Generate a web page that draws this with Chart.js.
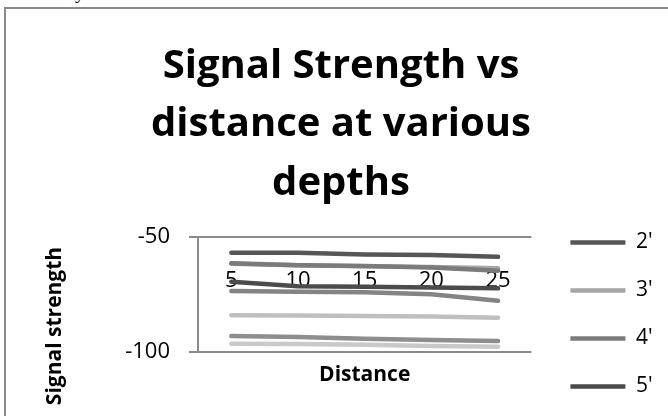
<!DOCTYPE html>
<html lang="en">
<head>
	<meta charset="UTF-8">
	<title>Signal Strength vs distance at various depths</title>
	<script src="https://cdn.jsdelivr.net/npm/chart.js"></script>
	<style>
		html, body { margin: 0; height: 416px; overflow: hidden; background: #fff; }
		.above { position: absolute; left: 14px; top: -19px; font: 20px/20px "Liberation Serif", serif; color: #000; }
		.frame { position: absolute; left: 4px; top: 7px; width: 900px; height: 900px; border-left: 2px solid #8a8a8a; border-top: 2px solid #8a8a8a; }
		.wrap { position: absolute; left: 0; top: 0; width: 668px; height: 616px; }
	</style>
</head>
<body>
	<div class="above">accuracy.</div>
	<div class="frame"></div>
	<div class="wrap"><canvas id="myChart"></canvas></div>

	<script>
		// categories (distance)
		const distances = ['5', '10', '15', '20', '25'];
		// series names (depths, in feet)
		const depths = ["2'", "3'", "4'", "5'", "6'", "7'", "8'", "9'"];
		// signal strength per depth
		const d2 = [-56.8, -56.8, -57.6, -57.8, -58.6];
		const d3 = [-61.6, -62.3, -62.7, -63.0, -63.6];
		const d4 = [-61.4, -62.2, -62.6, -63.2, -64.6];
		const d5 = [-69.4, -71.4, -71.6, -71.9, -72.3];
		const d6 = [-73.5, -73.8, -74.0, -74.9, -77.7];
		const d7 = [-84.0, -84.1, -84.3, -84.6, -85.1];
		const d8 = [-93.0, -93.5, -94.2, -94.8, -95.2];
		const d9 = [-96.4, -96.5, -96.8, -97.4, -97.7];
		const yTicks = [-100, -50];

		const values = [d2, d3, d4, d5, d6, d7, d8, d9];
		const colors = ['#565656', '#a6a6a6', '#7b7b7b', '#4b4b4b', '#848484', '#bfbfbf', '#8e8e8e', '#c9c9c9'];
		const axisGray = '#8a8a8a';

		Chart.defaults.font.family = '"Open Sans", sans-serif';
		Chart.defaults.color = '#000';

		// y axis title sits lower than the plot centre in the original, so draw it by hand
		const yTitle = {
			id: 'yTitle',
			afterDraw(chart) {
				const ctx = chart.ctx;
				ctx.save();
				ctx.translate(55, 326);
				ctx.rotate(-Math.PI / 2);
				ctx.font = 'bold 21px "Open Sans", sans-serif';
				ctx.fillStyle = '#000';
				ctx.textAlign = 'center';
				ctx.textBaseline = 'middle';
				ctx.fillText('Signal strength', 0, 0);
				ctx.restore();
			}
		};

		const datasets = depths.map((name, i) => ({
			label: name,
			data: values[i],
			borderColor: colors[i],
			backgroundColor: colors[i],
			borderWidth: 4.5,
			borderCapStyle: 'round',
			pointRadius: 0,
			tension: 0,
			order: i === 1 ? 1 : 0
		}));

		new Chart(document.getElementById('myChart'), {
			type: 'line',
			data: { labels: distances, datasets },
			plugins: [yTitle],
			options: {
				responsive: true,
				maintainAspectRatio: false,
				animation: false,
				layout: { padding: { left: 19.5, right: 5.5, top: 0, bottom: 0 } },
				plugins: {
					tooltip: { enabled: false },
					title: {
						display: true,
						text: ['Signal Strength vs', 'distance at various', 'depths'],
						font: { size: 40, weight: 'bold', lineHeight: 1.4675 },
						padding: { top: 37, bottom: 24 }
					},
					legend: {
						position: 'right',
						align: 'end',
						maxWidth: 300,
						labels: {
							usePointStyle: true,
							pointStyle: 'line',
							pointStyleWidth: 55,
							padding: 27,
							font: { size: 21 },
							color: '#000',
							sort: (a, b) => a.datasetIndex - b.datasetIndex
						}
					}
				},
				scales: {
					x: {
						type: 'category',
						offset: true,
						grid: { display: false, drawTicks: false },
						border: { display: false },
						ticks: { display: false },
						title: {
							display: true,
							text: 'Distance',
							font: { size: 21, weight: 'bold' },
							padding: { top: 10.4, bottom: 228.4 }
						}
					},
					xLabels: {
						type: 'category',
						position: { y: -63.4 },
						offset: true,
						grid: { display: false, drawTicks: false },
						border: { display: false },
						ticks: { padding: 0, font: { size: 22 }, maxRotation: 0 }
					},
					yGap: {
						type: 'linear',
						position: 'right',
						grid: { display: false, drawTicks: false },
						border: { display: false },
						ticks: { display: false },
						afterFit: s => { s.width = 12; }
					},
					y: {
						min: -100,
						max: -50,
						afterBuildTicks: s => { s.ticks = yTicks.map(v => ({ value: v })); },
						afterFit: s => { s.width = 178.5; },
						grid: { color: axisGray, lineWidth: 2, tickLength: 9, tickColor: axisGray, tickWidth: 2 },
						border: { color: axisGray, width: 2 },
						ticks: { padding: 19, font: { size: 22 } }
					}
				}
			}
		});
	</script>
</body>
</html>
